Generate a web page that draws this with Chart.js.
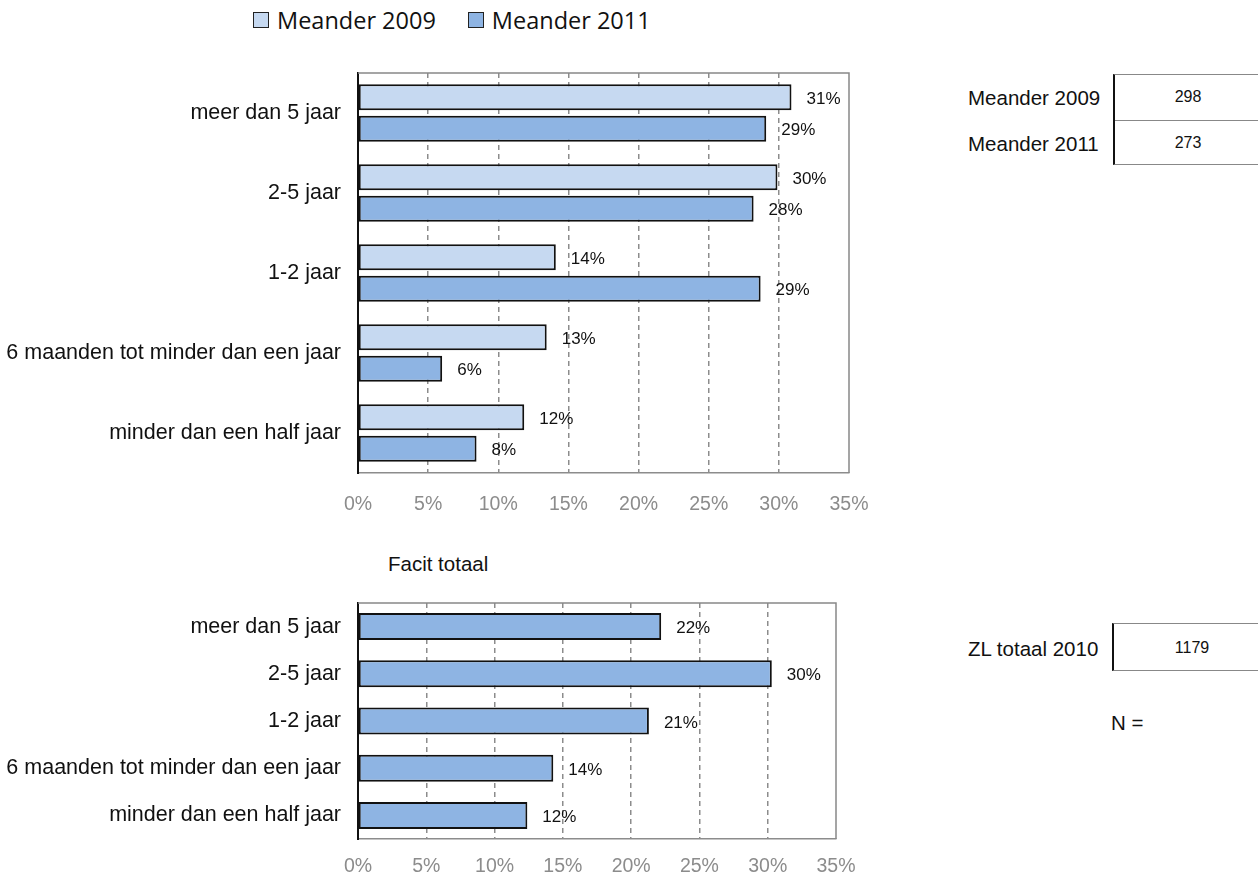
<!DOCTYPE html>
<html lang="nl">
  <head>
    <meta charset="UTF-8" />
    <title>Meander - duur</title>
    <script src="https://cdn.jsdelivr.net/npm/chart.js"></script>
    <style>
      body { margin: 0; background: #fff; font-family: "Liberation Sans", Arial, sans-serif; }
      .abs { position: absolute; }
      .legend { top: 4px; left: 253px; font-family: "Open Sans", sans-serif; font-size: 23.5px; color: #111; display: flex; align-items: center; height: 32px; }
      .legend span.box { display: inline-block; width: 14px; height: 14px; border: 1px solid #222; margin-right: 8px; }
      .legend span.item { display: flex; align-items: center; margin-right: 32px; }
      .lbl { font-size: 20.5px; color: #111; }
      .val { font-size: 16px; color: #111; text-align: center; }
    </style>
  </head>
  <body>

    <!-- legend -->
    <div class="abs legend" id="legend"></div>

    <!-- top chart -->
    <div class="abs" style="left:0; top:60px; width:870px; height:463px;">
      <canvas id="topChart"></canvas>
    </div>

    <div class="abs lbl" style="left:388px; top:552px;">Facit totaal</div>

    <!-- bottom chart -->
    <div class="abs" style="left:0; top:590px; width:860px; height:289px;">
      <canvas id="bottomChart"></canvas>
    </div>

    <!-- N tables -->
    <div class="abs lbl" style="left:968px; top:86px;">Meander 2009</div>
    <div class="abs lbl" style="left:968px; top:132px;">Meander 2011</div>
    <div class="abs" style="left:1113px; top:74px; width:160px; height:89px; border-left:2px solid #111; border-top:1px solid #888; border-bottom:1px solid #888;"></div>
    <div class="abs" style="left:1115px; top:120px; width:160px; height:0; border-top:1px solid #888;"></div>
    <div class="abs val" style="left:1115px; top:88px; width:146px;" id="n2009"></div>
    <div class="abs val" style="left:1115px; top:134px; width:146px;" id="n2011"></div>

    <div class="abs lbl" style="left:968px; top:637px;">ZL totaal 2010</div>
    <div class="abs" style="left:1112px; top:623px; width:160px; height:46px; border-left:2px solid #111; border-top:1px solid #888; border-bottom:1px solid #888;"></div>
    <div class="abs val" style="left:1114px; top:639px; width:156px;" id="nzl"></div>
    <div class="abs lbl" style="left:1111px; top:711px;">N =</div>

    <script>
      const categories = ['meer dan 5 jaar', '2-5 jaar', '1-2 jaar', '6 maanden tot minder dan een jaar', 'minder dan een half jaar'];
      const seriesNames = ['Meander 2009', 'Meander 2011'];
      const meander2009 = [30.9, 29.9, 14.1, 13.45, 11.85];
      const meander2011 = [29.1, 28.2, 28.7, 6.0, 8.45];
      const zlTotaal2010 = [22.2, 30.3, 21.3, 14.3, 12.4];
      const xTicks = [0, 5, 10, 15, 20, 25, 30, 35];
      const nCounts = [298, 273];
      const nZl = 1179;

      const light = '#C6D9F1';
      const mid = '#8EB4E3';

      // legend + N boxes
      const legend = document.getElementById('legend');
      [light, mid].forEach((c, i) => {
        legend.innerHTML += '<span class="item"><span class="box" style="background:' + c + '"></span>' + seriesNames[i] + '</span>';
      });
      document.getElementById('n2009').textContent = nCounts[0];
      document.getElementById('n2011').textContent = nCounts[1];
      document.getElementById('nzl').textContent = nZl;

      // value labels right of each bar
      const valueLabels = {
        id: 'valueLabels',
        afterDatasetsDraw(chart) {
          const ctx = chart.ctx;
          ctx.save();
          ctx.font = '17px "Liberation Sans", Arial, sans-serif';
          ctx.fillStyle = '#111';
          ctx.textAlign = 'left';
          ctx.textBaseline = 'middle';
          chart.data.datasets.forEach((ds, di) => {
            chart.getDatasetMeta(di).data.forEach((bar, i) => {
              ctx.fillText(Math.round(ds.data[i]) + '%', bar.x + 15, bar.y + 2);
            });
          });
          ctx.restore();
        }
      };

      // gray frame on top and right
      const frame = {
        id: 'frame',
        beforeDatasetsDraw(chart) {
          const a = chart.chartArea, ctx = chart.ctx;
          ctx.save();
          ctx.strokeStyle = '#888';
          ctx.lineWidth = 1.5;
          ctx.beginPath();
          ctx.moveTo(a.left, a.top);
          ctx.lineTo(a.right, a.top);
          ctx.lineTo(a.right, a.bottom);
          ctx.stroke();
          ctx.restore();
        }
      };

      function makeOptions(yWidth, xHeight, tickPad, padTop, padRight) {
        return {
          indexAxis: 'y',
          responsive: true,
          maintainAspectRatio: false,
          animation: false,
          layout: { padding: { top: padTop, right: padRight, left: 0, bottom: 0 } },
          plugins: { legend: { display: false }, tooltip: { enabled: false } },
          scales: {
            x: {
              min: 0, max: 35,
              afterBuildTicks(s) { s.ticks = xTicks.map(v => ({ value: v })); },
              afterFit(s) { s.height = xHeight; s.paddingLeft = 0; s.paddingRight = 0; },
              ticks: {
                callback: v => v + '%',
                color: '#8c8c8c',
                padding: tickPad,
                font: { size: 19.5, family: '"Liberation Sans", Arial, sans-serif' }
              },
              grid: {
                drawTicks: false,
                color: c => (c.tick && (c.tick.value === 0 || c.tick.value === 35)) ? 'rgba(0,0,0,0)' : '#8c8c8c',
                lineWidth: 1.5
              },
              border: { display: true, color: '#8c8c8c', width: 1.5, dash: [5, 4] }
            },
            y: {
              afterFit(s) { s.width = yWidth; s.paddingTop = 0; s.paddingBottom = 0; },
              ticks: {
                color: '#111',
                padding: 17,
                font: { size: 21.5, family: '"Liberation Sans", Arial, sans-serif' }
              },
              grid: { display: false, drawTicks: false },
              border: { display: true, color: '#111', width: 2 }
            }
          }
        };
      }

      const topOpts = makeOptions(358, 50, 20, 13, 21);
      const botOpts = makeOptions(358, 40, 16, 13, 24);

      new Chart(document.getElementById('topChart'), {
        type: 'bar',
        data: {
          labels: categories,
          datasets: [
            { label: seriesNames[0], data: meander2009, backgroundColor: light, borderColor: '#111', borderWidth: 2, borderSkipped: false, categoryPercentage: 0.79, barPercentage: 0.82 },
            { label: seriesNames[1], data: meander2011, backgroundColor: mid, borderColor: '#111', borderWidth: 2, borderSkipped: false, categoryPercentage: 0.79, barPercentage: 0.82 }
          ]
        },
        options: topOpts,
        plugins: [frame, valueLabels]
      });

      new Chart(document.getElementById('bottomChart'), {
        type: 'bar',
        data: {
          labels: categories,
          datasets: [
            { label: 'ZL totaal 2010', data: zlTotaal2010, backgroundColor: mid, borderColor: '#111', borderWidth: 2, borderSkipped: false, categoryPercentage: 0.65, barPercentage: 0.88 }
          ]
        },
        options: botOpts,
        plugins: [frame, valueLabels]
      });
    </script>
  </body>
</html>
